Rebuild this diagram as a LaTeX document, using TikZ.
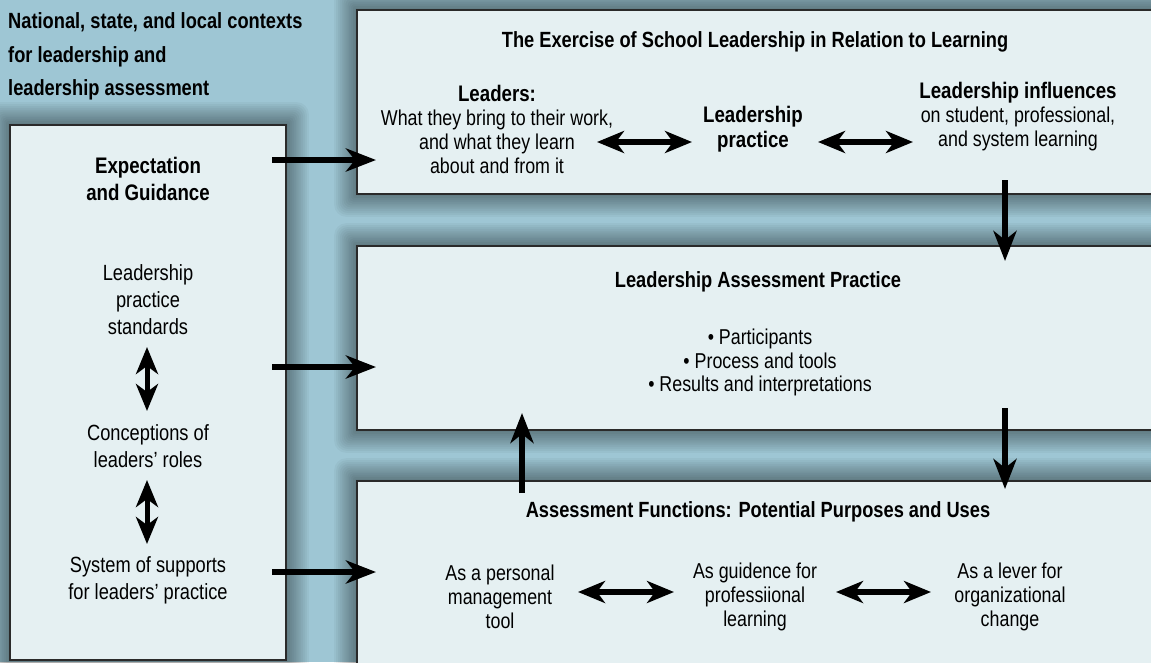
\documentclass[tikz,border=0pt]{standalone}
\usepackage{fontspec}
\setmainfont{Liberation Sans}[FakeStretch=0.83]
\usetikzlibrary{arrows.meta}
\definecolor{bgc}{HTML}{9EC6D4}
\definecolor{boxc}{HTML}{E5F0F2}
\definecolor{edgec}{HTML}{2A2A2A}
\newcommand\myshadow[4]{%
  \foreach \r in {1,...,12}{%
    \fill[black,opacity=0.034,rounded corners=\r pt] (#1-\r*1.9,#2-\r*1.9) rectangle (#3+\r*1.9,#4+\r*1.9);}}
\begin{document}
\begin{tikzpicture}[x=1pt,y=-1pt,
  box/.style={draw=edgec,line width=1.3pt,fill=boxc,inner sep=0pt,outer sep=0pt},
  reg/.style={font=\fontsize{21.5}{24}\selectfont,align=center,inner sep=0pt},
  lcol/.style={font=\fontsize{22}{27}\selectfont,align=center,inner sep=0pt},
  hd/.style={font=\bfseries\fontsize{22}{24}\selectfont,align=center,inner sep=0pt},
  bigarrow/.style={line width=6.5pt,-{Stealth[length=30pt,width=23pt,inset=9pt]}},
  dblarrow/.style={line width=6pt,{Stealth[length=27pt,width=22pt,inset=8pt]}-{Stealth[length=27pt,width=22pt,inset=8pt]}}
]
\useasboundingbox (0,0) rectangle (1151,662);
\clip (0,0) rectangle (1151,662);
\fill[bgc] (0,0) rectangle (1151,662);

% shadows
\myshadow{10}{125}{286}{660}
\myshadow{357}{10}{1200}{194}
\myshadow{357}{246}{1200}{430}
\myshadow{357}{481}{1200}{720}

% boxes
\node[box,minimum width=276pt,minimum height=535pt] (lbox) at (148,392.5) {};
\node[box,minimum width=843pt,minimum height=184pt] (tbox) at (778.5,102) {};
\node[box,minimum width=843pt,minimum height=184pt] (mbox) at (778.5,338) {};
\node[box,minimum width=843pt,minimum height=239pt] (bbox) at (778.5,600.5) {};

% context title
\node[font=\bfseries\fontsize{22}{33.5}\selectfont,align=left,inner sep=0pt,anchor=west] (ctx) at (8,56.5)
  {National, state, and local contexts\\for leadership and\\leadership assessment};

% left column
\node[lcol,font=\bfseries\fontsize{22.5}{27}\selectfont] (exp) at (148,178.5) {Expectation\\and Guidance};
\node[lcol] (lps) at (148,300) {Leadership\\practice\\standards};
\node[lcol] (clr) at (148,446) {Conceptions of\\leaders’ roles};
\node[lcol] (sys) at (148,580) {System of supports\\for leaders’ practice};

% top box
\node[hd] (tttl) at (755,42) {The Exercise of School Leadership in Relation to Learning};
\node[reg] (ldr) at (497,129.5) {{\bfseries\fontsize{22.5}{24}\selectfont Leaders:}\\What they bring to their work,\\and what they learn\\about and from it};
\node[hd,font=\bfseries\fontsize{22.5}{25}\selectfont] (lp) at (753,129.5) {Leadership\\practice};
\node[reg] (li) at (1018,116.5) {{\bfseries\fontsize{22.5}{24}\selectfont Leadership influences}\\on student, professional,\\and system learning};

% middle box
\node[hd] (mttl) at (758,282) {Leadership Assessment Practice};
\node[reg,font=\fontsize{21.5}{23.5}\selectfont] (bul) at (760,362.5) {• Participants\\• Process and tools\\• Results and interpretations};

% bottom box
\node[hd] (bttl) at (758,512) {Assessment Functions: Potential Purposes and Uses};
\node[reg] (pm) at (500,596.5) {As a personal\\management\\tool};
\node[reg] (gl) at (755,596.5) {As guidence for\\professiional\\learning};
\node[reg] (lv) at (1010,596.5) {As a lever for\\organizational\\change};

% arrow end points
\coordinate (a1s) at (272,160);  \coordinate (a1e) at (376,160);
\coordinate (a2s) at (272,367);  \coordinate (a2e) at (376,367);
\coordinate (a3s) at (272,572);  \coordinate (a3e) at (376,572);
\coordinate (ups) at (522,493);  \coordinate (upe) at (522,413);
\coordinate (d1s) at (1005,180); \coordinate (d1e) at (1005,261);
\coordinate (d2s) at (1005,408); \coordinate (d2e) at (1005,489);
\coordinate (t1s) at (597,142);  \coordinate (t1e) at (692,142);
\coordinate (t2s) at (818,142);  \coordinate (t2e) at (913,142);
\coordinate (b1s) at (578,592);  \coordinate (b1e) at (674,592);
\coordinate (b2s) at (836,592);  \coordinate (b2e) at (931,592);
\coordinate (l1s) at (147,347);  \coordinate (l1e) at (147,411);
\coordinate (l2s) at (147,480);  \coordinate (l2e) at (147,544);

\draw[bigarrow] (a1s) -- (a1e);
\draw[bigarrow] (a2s) -- (a2e);
\draw[bigarrow] (a3s) -- (a3e);
\draw[bigarrow] (ups) -- (upe);
\draw[bigarrow] (d1s) -- (d1e);
\draw[bigarrow] (d2s) -- (d2e);
\draw[dblarrow] (t1s) -- (t1e);
\draw[dblarrow] (t2s) -- (t2e);
\draw[dblarrow] (b1s) -- (b1e);
\draw[dblarrow] (b2s) -- (b2e);
\draw[dblarrow,line width=5pt] (l1s) -- (l1e);
\draw[dblarrow,line width=5pt] (l2s) -- (l2e);
\end{tikzpicture}
\end{document}
